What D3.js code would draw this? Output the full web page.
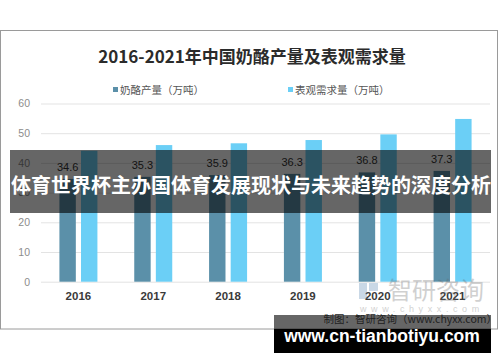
<!DOCTYPE html>
<html>
<head>
<meta charset="utf-8">
<script src="https://cdn.jsdelivr.net/npm/d3@7"></script>
<style>
  body { margin: 0; background: #fff; }
  svg { display: block; font-family: "Noto Sans CJK SC", "Noto Sans", sans-serif; }
</style>
</head>
<body>
<svg width="500" height="362"></svg>
<script>
// 数据
const years = ["2016", "2017", "2018", "2019", "2020", "2021"];
const output = [34.6, 35.3, 35.9, 36.3, 36.8, 37.3];      // 奶酪产量
const demand = [44.1, 46.0, 46.6, 47.7, 49.6, 54.8];      // 表观需求量
const yTicks = [0, 10, 20, 30, 40, 50, 60];
const seriesNames = ["奶酪产量（万吨）", "表观需求量（万吨）"];
const colors = ["#5b90a9", "#6bcff6"];

const width = 500, height = 362;
const margin = { top: 104, right: 10, bottom: 80, left: 41 };

const svg = d3.select("svg");

// 外框
svg.append("rect")
    .attr("x", 0.5).attr("y", 30.5)
    .attr("width", 497).attr("height", 298.5)
    .attr("fill", "#fff")
    .attr("stroke", "#9a9a9a")
    .attr("stroke-width", 1);

// 标题
svg.append("text")
    .attr("x", 252).attr("y", 63)
    .attr("text-anchor", "middle")
    .style("font-size", "17px")
    .style("font-weight", "bold")
    .style("fill", "#2b2b2b")
    .text("2016-2021年中国奶酪产量及表观需求量");

// 比例尺
const x0 = d3.scaleBand()
    .domain(years)
    .range([margin.left, width - margin.right])
    .paddingInner(0).paddingOuter(0);

const x1 = d3.scaleBand()
    .domain([0, 1])
    .range([0, 38])
    .paddingInner(0.24);

const y = d3.scaleLinear()
    .domain([0, 60])
    .range([281.7, 103.5]);

// 网格线
svg.append("g")
    .attr("transform", `translate(${margin.left},0)`)
    .call(d3.axisLeft(y).tickValues(yTicks).tickSize(-(width - margin.right - margin.left)).tickFormat(""))
    .call(g => g.select(".domain").remove())
    .selectAll(".tick line")
    .style("stroke", "#e3e3e3")
    .style("stroke-width", "1px");

// Y轴标签
svg.append("g")
    .attr("transform", `translate(${margin.left - 8},0)`)
    .call(d3.axisLeft(y).tickValues(yTicks).tickSize(0))
    .call(g => g.select(".domain").remove())
    .selectAll("text")
    .style("font-family", "'Liberation Sans', sans-serif")
    .style("font-size", "10.5px")
    .style("fill", "#8c8c8c");

// 柱子
const groups = svg.selectAll("g.year")
    .data(years)
    .enter().append("g")
    .attr("class", "year")
    .attr("transform", d => `translate(${x0(d) + x0.bandwidth() / 2 - 19},0)`);

groups.append("rect")
    .attr("x", x1(0))
    .attr("y", (d, i) => y(output[i]))
    .attr("width", x1.bandwidth())
    .attr("height", (d, i) => y(0) - y(output[i]))
    .attr("fill", colors[0]);

groups.append("rect")
    .attr("x", x1(1))
    .attr("y", (d, i) => y(demand[i]))
    .attr("width", x1.bandwidth())
    .attr("height", (d, i) => y(0) - y(demand[i]))
    .attr("fill", colors[1]);

// 产量数值标签
groups.append("text")
    .attr("x", x1(0) + x1.bandwidth() / 2)
    .attr("y", (d, i) => y(output[i]) - 8)
    .attr("text-anchor", "middle")
    .style("font-family", "'Liberation Sans', sans-serif")
    .style("font-size", "11px")
    .style("fill", "#333")
    .text((d, i) => output[i].toFixed(1));

// X轴
svg.append("g")
    .attr("transform", `translate(0,${y(0)})`)
    .call(d3.axisBottom(x0).tickSize(0).tickPadding(10))
    .call(g => g.select(".domain").remove())
    .selectAll("text")
    .style("font-family", "'Liberation Sans', sans-serif")
    .style("font-size", "11.5px")
    .style("font-weight", "bold")
    .style("fill", "#3a3a3a");

// 图例
const legendX = [113, 288];
const legend = svg.selectAll("g.legend")
    .data(seriesNames)
    .enter().append("g")
    .attr("class", "legend")
    .attr("transform", (d, i) => `translate(${legendX[i]},90)`);

legend.append("rect")
    .attr("x", 0).attr("y", -3)
    .attr("width", 5).attr("height", 5)
    .attr("fill", (d, i) => colors[i]);

legend.append("text")
    .attr("x", 7).attr("y", 0)
    .attr("dy", "0.35em")
    .style("font-size", "10.5px")
    .style("fill", "#555")
    .text(d => d);

// 水印
const wm = svg.append("g").style("opacity", 0.3);
wm.append("rect").attr("x", 359).attr("y", 283).attr("width", 8).attr("height", 16).attr("fill", "#4f7fb0");
wm.append("rect").attr("x", 369).attr("y", 283).attr("width", 9).attr("height", 8).attr("fill", "#4f7fb0");
wm.append("text")
    .attr("x", 388).attr("y", 299)
    .style("font-size", "24px")
    .style("fill", "#666")
    .text("智研咨询");
wm.append("text")
    .attr("x", 360).attr("y", 312)
    .style("font-family", "'Liberation Sans', sans-serif")
    .style("font-size", "9px")
    .style("letter-spacing", "4.6px")
    .style("fill", "#666")
    .text("www.chyxx.com");

// 横幅
svg.append("rect")
    .attr("x", 10).attr("y", 150)
    .attr("width", 481).attr("height", 63)
    .attr("fill", "#000")
    .attr("opacity", 0.6);

svg.append("text")
    .attr("x", 251).attr("y", 186)
    .attr("dy", "0.35em")
    .attr("text-anchor", "middle")
    .style("font-size", "20px")
    .style("font-weight", "bold")
    .style("fill", "#fff")
    .text("体育世界杯主办国体育发展现状与未来趋势的深度分析");

// 底部网址
svg.append("rect")
    .attr("x", 274).attr("y", 315)
    .attr("width", 217).attr("height", 14)
    .attr("fill", "#000")
    .attr("opacity", 0.6);
svg.append("rect")
    .attr("x", 274).attr("y", 329)
    .attr("width", 217).attr("height", 24)
    .attr("fill", "#000");

svg.append("text")
    .attr("x", 497).attr("y", 323)
    .attr("text-anchor", "end")
    .style("font-size", "10.5px")
    .style("fill", "#222")
    .text("制图：智研咨询（www.chyxx.com）");

svg.append("text")
    .attr("x", 382).attr("y", 342)
    .attr("text-anchor", "middle")
    .style("font-family", "'Liberation Sans', sans-serif")
    .style("font-size", "17.5px")
    .style("font-weight", "bold")
    .style("fill", "#fff")
    .text("www.cn-tianbotiyu.com");
</script>
</body>
</html>
